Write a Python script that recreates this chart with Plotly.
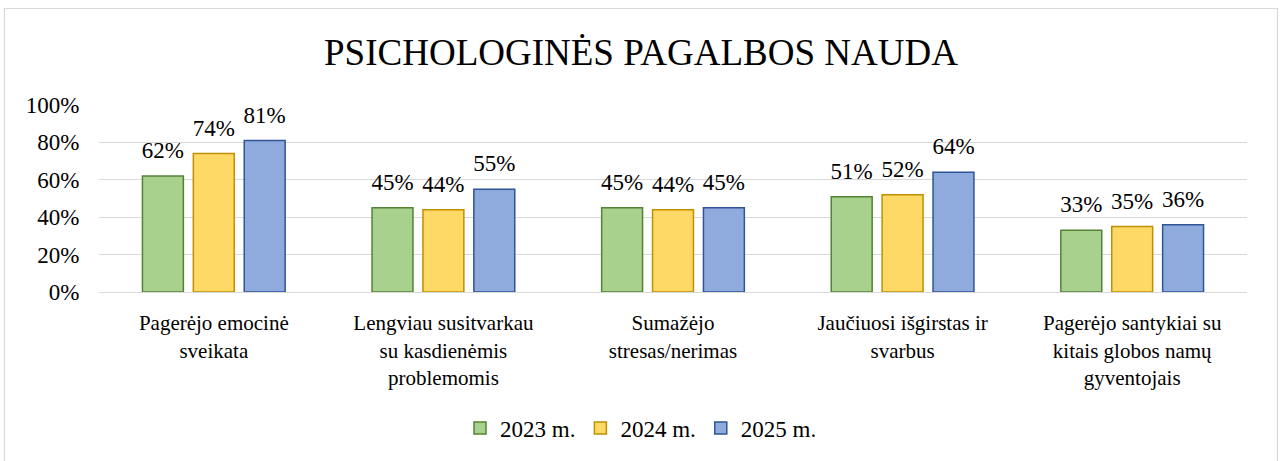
import plotly.graph_objects as go

categories = [
    "Pagerėjo emocinė<br>sveikata",
    "Lengviau susitvarkau<br>su kasdienėmis<br>problemomis",
    "Sumažėjo<br>stresas/nerimas",
    "Jaučiuosi išgirstas ir<br>svarbus",
    "Pagerėjo santykiai su<br>kitais globos namų<br>gyventojais",
]
series_names = ["2023 m.", "2024 m.", "2025 m."]
values_2023 = [0.62, 0.45, 0.45, 0.51, 0.33]
values_2024 = [0.74, 0.44, 0.44, 0.52, 0.35]
values_2025 = [0.81, 0.55, 0.45, 0.64, 0.36]
fills = ["#A9D18E", "#FFD966", "#8FAADC"]
borders = ["#548235", "#BF9000", "#2F5597"]
y_ticks = [0, 0.2, 0.4, 0.6, 0.8, 1.0]
y_tick_labels = ["0%", "20%", "40%", "60%", "80%", "100%"]

FONT = "Liberation Serif, Times New Roman, serif"

fig = go.Figure()
for i, (name, vals, fc, bc) in enumerate(zip(series_names, [values_2023, values_2024, values_2025], fills, borders)):
    fig.add_trace(go.Bar(
        x=categories, y=vals, name=name, offsetgroup=str(i),
        marker=dict(color=fc, line=dict(color=bc, width=1.5)),
        cliponaxis=False, hoverinfo="skip",
    ))
for i, vals in enumerate([values_2023, values_2024, values_2025]):
    fig.add_trace(go.Scatter(
        x=categories, y=vals, offsetgroup=str(i), mode="markers+text",
        marker=dict(size=18, color="rgba(0,0,0,0)"),
        text=[f"{round(v*100)}%" for v in vals],
        textposition="top center",
        textfont=dict(family=FONT, size=23, color="black"),
        showlegend=False, hoverinfo="skip", cliponaxis=False,
    ))

L, R, T, B = 99, 35, 105, 169
W, H = 1282, 461
pw, ph = W - L - R, H - T - B

def px_x(p):
    return (p - L) / pw

def px_y(p):
    return (H - B - p) / ph

fig.add_shape(type="rect", xref="paper", yref="paper",
              x0=px_x(4.5), x1=px_x(1277.5), y0=px_y(475), y1=px_y(8.5),
              line=dict(color="#D9D9D9", width=1.2), fillcolor="rgba(0,0,0,0)", layer="below")

fig.update_layout(
    width=W, height=H,
    margin=dict(l=L, r=R, t=T, b=B, autoexpand=False),
    paper_bgcolor="white", plot_bgcolor="white",
    font=dict(family=FONT, color="black", size=21),
    title=dict(text="PSICHOLOGINĖS PAGALBOS NAUDA", x=0.5, xref="container", xanchor="center",
               y=1 - 52 / H, yref="container", yanchor="middle",
               font=dict(family=FONT, size=37, color="black")),
    barmode="group", bargap=0.335, bargroupgap=0.196,
    scattermode="group", scattergap=0.335,
    showlegend=True, hovermode=False,
    legend=dict(orientation="h", x=px_x(641), xanchor="center", y=px_y(428), yanchor="middle",
                font=dict(family=FONT, size=23, color="black"), itemwidth=30,
                traceorder="normal"),
    xaxis=dict(showgrid=False, showline=True, linecolor="#D9D9D9", linewidth=1,
               ticks="outside", ticklen=12, tickcolor="rgba(0,0,0,0)",
               tickfont=dict(family=FONT, size=21, color="black")),
    yaxis=dict(range=[0, 1.0], tickvals=y_ticks, ticktext=y_tick_labels,
               showgrid=True, gridcolor="#D9D9D9", gridwidth=1, zeroline=False,
               showline=False, ticks="outside", ticklen=14, tickcolor="rgba(0,0,0,0)",
               tickfont=dict(family=FONT, size=23, color="black")),
)

fig.write_html("out.html", config={"displayModeBar": False},
               post_script="document.body.style.margin='0';")
